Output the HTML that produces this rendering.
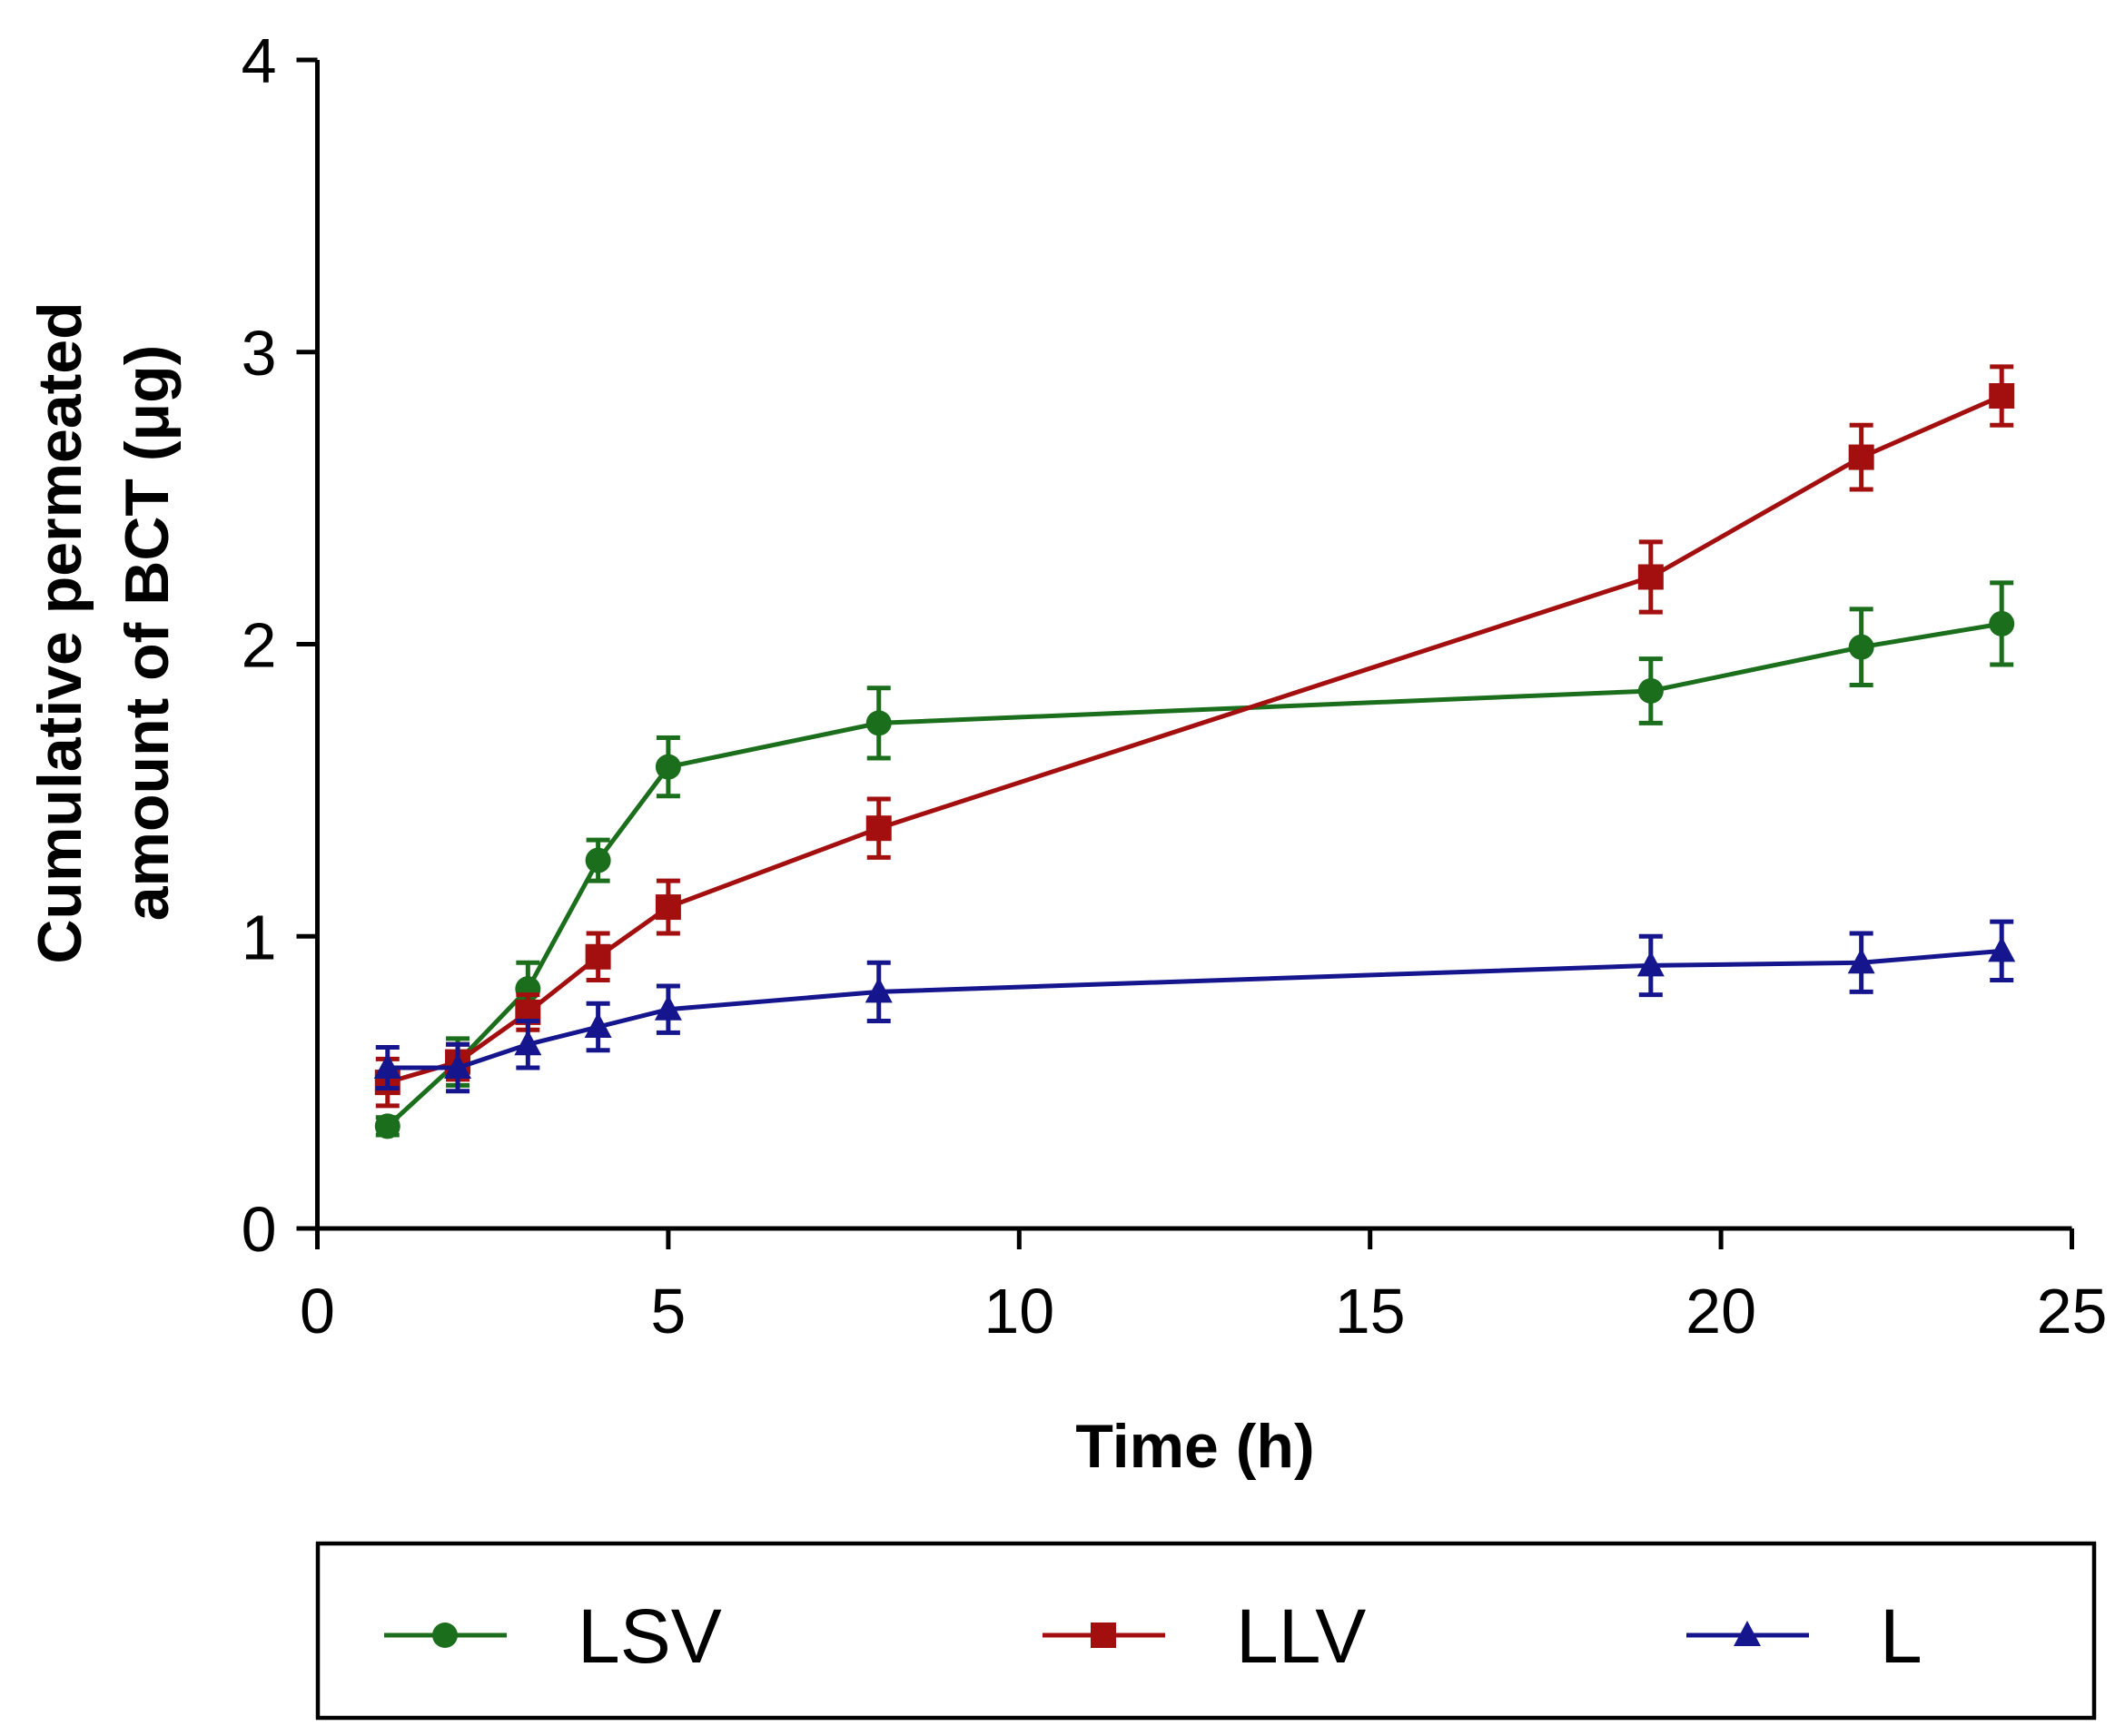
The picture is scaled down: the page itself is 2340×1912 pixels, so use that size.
<!DOCTYPE html>
<html><head><meta charset="utf-8"><style>
html,body{margin:0;padding:0;background:#fff;}
svg{display:block;font-family:"Liberation Sans",Arial,sans-serif;}
</style></head><body>
<svg id="chart" width="2340" height="1912" viewBox="0 0 2340 1912" xmlns="http://www.w3.org/2000/svg">
<g id="axes"></g>
<g id="series"></g>
<text transform="translate(117,697) rotate(-90)" text-anchor="middle" font-size="68" font-weight="bold"><tspan x="0" y="-28">Cumulative permeated</tspan><tspan x="0" y="68">amount of BCT (μg)</tspan></text>
<text x="1316" y="1616" text-anchor="middle" font-size="68" font-weight="bold">Time (h)</text>
<g id="legend">
<rect x="350" y="1700" width="1956" height="192" fill="none" stroke="#000" stroke-width="4.5"/>
</g>
</svg>
<script>
const times = [1,2,3,4,5,8,19,22,24];
const lsvValues = [0.35,0.57,0.82,1.26,1.58,1.73,1.84,1.99,2.07];
const lsvErrors = [0.03,0.08,0.09,0.07,0.1,0.12,0.11,0.13,0.14];
const llvValues = [0.5,0.57,0.74,0.93,1.1,1.37,2.23,2.64,2.85];
const llvErrors = [0.08,0.06,0.06,0.08,0.09,0.1,0.12,0.11,0.1];
const lValues = [0.55,0.55,0.63,0.69,0.75,0.81,0.9,0.91,0.95];
const lErrors = [0.07,0.08,0.08,0.08,0.08,0.1,0.1,0.1,0.1];
const xTicks = [0,5,10,15,20,25];
const yTicks = [0,1,2,3,4];

const NS="http://www.w3.org/2000/svg";
const X0=349.5,X1=2281.5,Y0=1353,Y1=66;
function sx(v){return X0+(X1-X0)*v/25;}
function sy(v){return Y0+(Y1-Y0)*v/4;}
function mk(tag,attrs,parent){const e=document.createElementNS(NS,tag);for(const k in attrs)e.setAttribute(k,attrs[k]);parent.appendChild(e);return e;}

const axes=document.getElementById('axes');
let a=mk('line',{x1:X0-2,y1:Y0,x2:X1,y2:Y0,stroke:'#000','stroke-width':5},axes);


a=mk('line',{x1:X0,y1:Y0,x2:X0,y2:Y1,stroke:'#000','stroke-width':5},axes);


xTicks.forEach(t=>{
  const l=mk('line',{x1:sx(t),y1:Y0,x2:sx(t),y2:Y0+23,stroke:'#000','stroke-width':5},axes);
  
  
  const tx=mk('text',{x:sx(t),y:Y0+115,'text-anchor':'middle','font-size':70},axes);
  tx.textContent=t;
  
  
});
yTicks.forEach(t=>{
  const l=mk('line',{x1:X0-23,y1:sy(t),x2:X0,y2:sy(t),stroke:'#000','stroke-width':5},axes);
  
  
  const tx=mk('text',{x:X0-45,y:sy(t)+25,'text-anchor':'end','font-size':70},axes);
  tx.textContent=t;
  
  
});

function marker(type,x,y,color,parent){
  let e;
  if(type==='circle') e=mk('circle',{cx:x,cy:y,r:14,fill:color},parent);
  else if(type==='square') e=mk('rect',{x:x-14,y:y-14,width:28,height:28,fill:color},parent);
  else e=mk('polygon',{points:`${x},${y-16} ${x-15},${y+12} ${x+15},${y+12}`,fill:color},parent);
  return e;
}
const ser=document.getElementById('series');
function drawSeries(name,vals,errs,color,type){
  const g=mk('g',{},ser);
  
  
  vals.forEach((v,i)=>{
    const x=sx(times[i]),yt=sy(v+errs[i]),yb=sy(v-errs[i]);
    const eb=mk('path',{d:`M${x},${yt}V${yb}M${x-13},${yt}H${x+13}M${x-13},${yb}H${x+13}`,stroke:color,'stroke-width':5,fill:'none'},g);
    
    
  });
  const pl=mk('polyline',{points:vals.map((v,i)=>sx(times[i])+','+sy(v)).join(' '),fill:'none',stroke:color,'stroke-width':5},g);
  
  
  vals.forEach((v,i)=>{
    const m=marker(type,sx(times[i]),sy(v),color,g);
    
    
  });
}
drawSeries('lsv',lsvValues,lsvErrors,'#1b6e1b','circle');
drawSeries('llv',llvValues,llvErrors,'#a30f0f','square');
drawSeries('l',lValues,lErrors,'#15158e','triangle');

const leg=document.getElementById('legend');
[['LSV','#1b6e1b','circle',423],['LLV','#a30f0f','square',1148],['L','#15158e','triangle',1857]].forEach(([lab,c,t,x])=>{
  const g=mk('g',{},leg);
  
  
  mk('line',{x1:x,y1:1801,x2:x+135,y2:1801,stroke:c,'stroke-width':5},g);
  marker(t,x+67,1801,c,g);
  const tx=mk('text',{x:x+213,y:1831,'font-size':84},g);
  tx.textContent=lab;
});
</script>
</body></html>
